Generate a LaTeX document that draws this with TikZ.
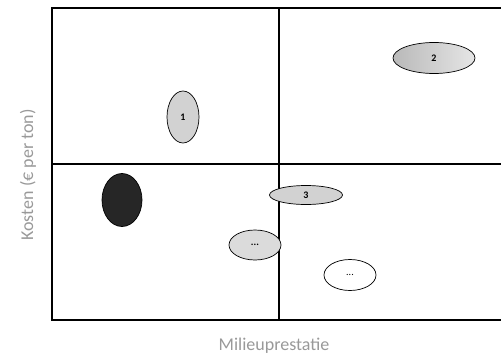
\documentclass[tikz,border=0pt]{standalone}
\usepackage{fontspec}
\setmainfont{Carlito}
\usetikzlibrary{shapes.geometric}
\tikzset{
  blob/.style={ellipse, draw=black, line width=0.7pt, fill=gray!35, inner sep=0pt, font=\fontsize{10}{11}\selectfont\bfseries},
  axislabel/.style={text=black!40, font=\fontsize{18}{20}\selectfont}
}
\begin{document}
\begin{tikzpicture}[x=1pt, y=-1pt]
\useasboundingbox (0,0) rectangle (501,359);
% quadrant frame
\draw[line width=1.2pt] (501,8) -- (52,8) -- (52,320) -- (501,320);
\draw[line width=1.2pt] (279,8) -- (279,320);
\draw[line width=1.2pt] (52,164) -- (501,164);
% positions
\node[blob, minimum width=32pt, minimum height=52pt] (p1) at (183,117) {1};
\node[blob, minimum width=82pt, minimum height=31pt, left color=gray!55, right color=gray!20] (p2) at (434,58) {2};
\node[blob, minimum width=40pt, minimum height=53pt, fill=black!85] (p4) at (122,200) {};
\node[blob, minimum width=73pt, minimum height=19pt] (p3) at (306,195) {3};
\node[blob, minimum width=52pt, minimum height=30pt, fill=gray!28] (p5) at (255,245) {...};
\node[blob, minimum width=52pt, minimum height=31pt, fill=white, font=\fontsize{10}{11}\selectfont] (p6) at (350,275) {...};
% axes
\node[axislabel, rotate=90] (ylab) at (28,175) {Kosten (€ per ton)};
\node[axislabel] (xlab) at (274,346) {Milieuprestatie};
\end{tikzpicture}
\end{document}
